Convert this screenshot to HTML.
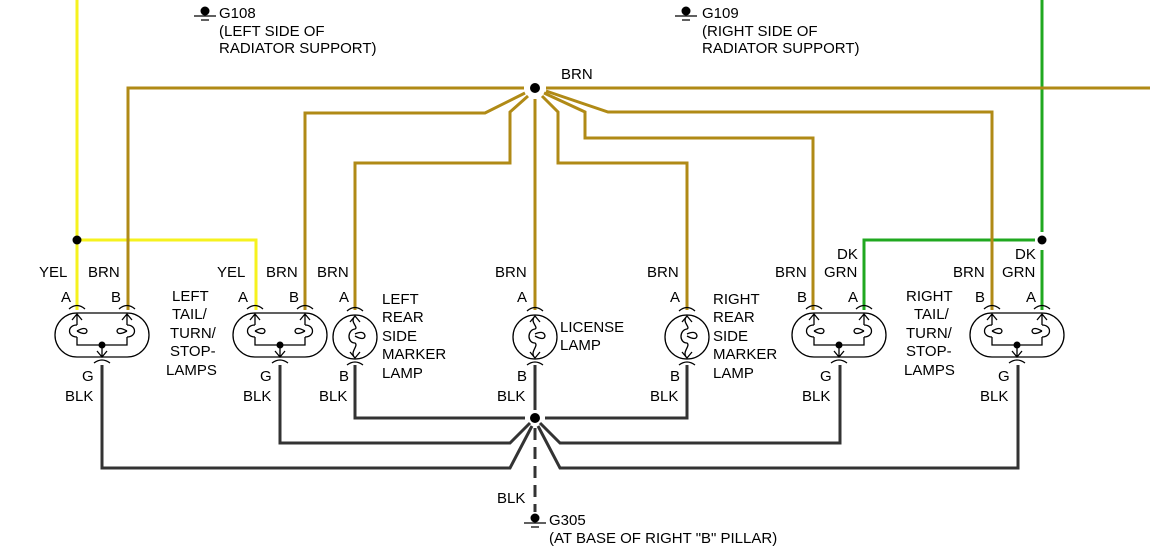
<!DOCTYPE html>
<html><head><meta charset="utf-8"><style>
html,body{margin:0;padding:0;background:#fff;}
svg{display:block;}
text{font-family:"Liberation Sans",Arial,sans-serif;font-size:15px;fill:#000;}
</style></head><body>
<svg width="1150" height="546" viewBox="0 0 1150 546" xmlns="http://www.w3.org/2000/svg">
<defs>
<g id="dual" fill="none" stroke="#000" stroke-width="1.3">
  <path d="M-25,-22 H25 A22,22 0 0 1 25,22 H-25 A22,22 0 0 1 -25,-22 Z"/>
  <path d="M-33,-26 Q-25,-33 -17,-26 M17,-26 Q25,-33 33,-26"/>
  <path d="M-25,-21 V-10 M-30,-15 L-25,-21 L-20,-15 M25,-21 V-10 M20,-15 L25,-21 L30,-15"/>
  <path d="M-25,-10 C-35,-10 -35,2 -25,2 M-25,-4 Q-16,-9 -15,-4 Q-16,1 -25,-4"/>
  <path d="M25,-10 C35,-10 35,2 25,2 M25,-4 Q16,-9 15,-4 Q16,1 25,-4"/>
  <path d="M-25,2 V10 H25 V2"/>
  <path d="M0,10 V22 M-5,16 L0,22 L5,16"/>
  <path d="M-8,28 Q0,22 8,28"/>
  <circle cx="0" cy="10" r="3.5" fill="#000" stroke="none"/>
</g>
<g id="single" fill="none" stroke="#000" stroke-width="1.3">
  <circle cx="0" cy="0" r="22"/>
  <path d="M-8,-26 Q0,-33 8,-26 M-8,28 Q0,22 8,28"/>
  <path d="M-5,-15 L0,-21 L5,-15 M0,-21 C-6,-15 4,-10 0,-8 C-8,-7 -8,6 0,6 C4,9 -6,15 0,21 M-5,15 L0,21 L5,15"/>
  <path d="M0,-3 Q9,-7 10,-1 Q9,4 0,-1"/>
</g>
<g id="gnd" fill="none" stroke="#000" stroke-width="1.3">
  <circle cx="0" cy="-3" r="4.5" fill="#000" stroke="none"/>
  <path d="M-11,2 H11 M-4,6 H4"/>
</g>
</defs>

<g fill="none" stroke="#f6f21e" stroke-width="3">
  <path d="M77,0 V310"/>
  <path d="M77,240 H256 V310"/>
</g>
<circle cx="77" cy="240" r="4.5" fill="#000"/>
<g fill="none" stroke="#20a820" stroke-width="3">
  <path d="M1042,0 V232"/>
  <path d="M1042,250 V310"/>
  <path d="M1035,240 H864 V310"/>
</g>
<circle cx="1042" cy="240" r="4.5" fill="#000"/>
<g fill="none" stroke="#b08a16" stroke-width="3">
  <path d="M524,88 H128 V310"/>
  <path d="M546,88 H1150"/>
  <path d="M525,93 L485,113 H305 V310"/>
  <path d="M528,96 L510,112 V163 H355 V310"/>
  <path d="M535,99 V310"/>
  <path d="M542,96 L558,112 V163 H687 V310"/>
  <path d="M544,93 L585,112 V138 H813 V310"/>
  <path d="M546,91 L608,112 H992 V310"/>
</g>
<circle cx="535" cy="88" r="5" fill="#000"/>
<g fill="none" stroke="#333" stroke-width="3">
  <path d="M355,365 V418 H525"/>
  <path d="M535,365 V410"/>
  <path d="M687,365 V418 H545"/>
  <path d="M280,365 V443 H510 L530,423"/>
  <path d="M102,365 V468 H510 L532,426"/>
  <path d="M840,365 V443 H560 L540,423"/>
  <path d="M1018,365 V468 H560 L538,426"/>
  <path d="M535,428 V512" stroke-dasharray="12,7"/>
</g>
<circle cx="535" cy="418" r="5" fill="#000"/>

<use href="#dual" x="102" y="335"/>
<use href="#dual" x="280" y="335"/>
<use href="#dual" x="839" y="335"/>
<use href="#dual" x="1017" y="335"/>
<use href="#single" x="355" y="337"/>
<use href="#single" x="535" y="337"/>
<use href="#single" x="687" y="337"/>

<use href="#gnd" x="205" y="14"/>
<use href="#gnd" x="686" y="14"/>
<use href="#gnd" x="535" y="521"/>

<text x="219" y="18">G108</text>
<text x="219" y="36">(LEFT SIDE OF</text>
<text x="219" y="53">RADIATOR SUPPORT)</text>
<text x="702" y="18">G109</text>
<text x="702" y="36">(RIGHT SIDE OF</text>
<text x="702" y="53">RADIATOR SUPPORT)</text>
<text x="561" y="79">BRN</text>
<text x="549" y="525">G305</text>
<text x="549" y="543">(AT BASE OF RIGHT "B" PILLAR)</text>
<text x="497" y="503">BLK</text>

<text x="39" y="277">YEL</text><text x="88" y="277">BRN</text>
<text x="61" y="302">A</text><text x="111" y="302">B</text>
<text x="82" y="381">G</text><text x="65" y="401">BLK</text>
<text x="172" y="301">LEFT</text><text x="172" y="319">TAIL/</text><text x="170" y="338">TURN/</text><text x="170" y="356">STOP-</text><text x="166" y="375">LAMPS</text>

<text x="217" y="277">YEL</text><text x="266" y="277">BRN</text>
<text x="238" y="302">A</text><text x="289" y="302">B</text>
<text x="260" y="381">G</text><text x="243" y="401">BLK</text>

<text x="317" y="277">BRN</text><text x="339" y="302">A</text>
<text x="339" y="381">B</text><text x="319" y="401">BLK</text>
<text x="382" y="304">LEFT</text><text x="382" y="322">REAR</text><text x="382" y="341">SIDE</text><text x="382" y="359">MARKER</text><text x="382" y="378">LAMP</text>

<text x="495" y="277">BRN</text><text x="517" y="302">A</text>
<text x="517" y="381">B</text><text x="497" y="401">BLK</text>
<text x="560" y="332">LICENSE</text><text x="560" y="350">LAMP</text>

<text x="647" y="277">BRN</text><text x="670" y="302">A</text>
<text x="670" y="381">B</text><text x="650" y="401">BLK</text>
<text x="713" y="304">RIGHT</text><text x="713" y="322">REAR</text><text x="713" y="341">SIDE</text><text x="713" y="359">MARKER</text><text x="713" y="378">LAMP</text>

<text x="775" y="277">BRN</text><text x="797" y="302">B</text>
<text x="837" y="259">DK</text><text x="824" y="277">GRN</text><text x="848" y="302">A</text>
<text x="820" y="381">G</text><text x="802" y="401">BLK</text>
<text x="906" y="301">RIGHT</text><text x="914" y="319">TAIL/</text><text x="906" y="338">TURN/</text><text x="906" y="356">STOP-</text><text x="904" y="375">LAMPS</text>

<text x="953" y="277">BRN</text><text x="975" y="302">B</text>
<text x="1015" y="259">DK</text><text x="1002" y="277">GRN</text><text x="1026" y="302">A</text>
<text x="998" y="381">G</text><text x="980" y="401">BLK</text>
</svg>
</body></html>
